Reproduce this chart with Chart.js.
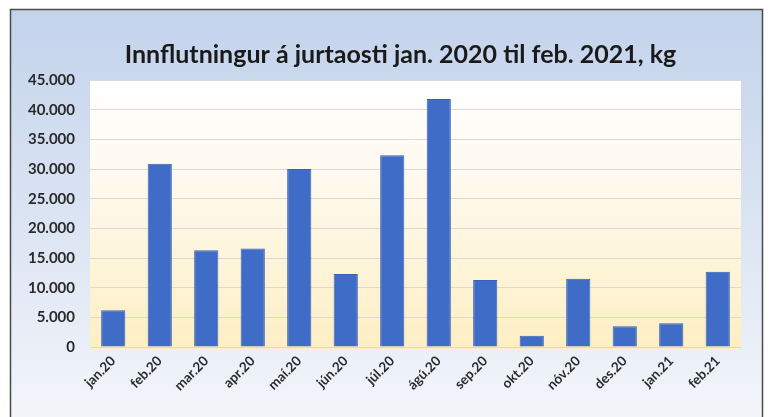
<!DOCTYPE html>
<html>
<head>
<meta charset="utf-8">
<script src="https://cdn.jsdelivr.net/npm/chart.js@4/dist/chart.umd.min.js"></script>
<style>
  html, body { margin: 0; padding: 0; background: #ffffff; }
  #wrap { width: 773px; height: 417px; position: relative; }
</style>
</head>
<body>
<div id="wrap"><canvas id="c" width="773" height="417"></canvas></div>
<script>
const chartTitle = "Innflutningur á jurtaosti jan. 2020 til feb. 2021, kg";
const categories = ["jan.20","feb.20","mar.20","apr.20","maí.20","jún.20","júl.20","ágú.20","sep.20","okt.20","nóv.20","des.20","jan.21","feb.21"];
const importKg = [6200, 30900, 16300, 16600, 30000, 12300, 32300, 41800, 11300, 1900, 11500, 3500, 4000, 12700];
const yTicks = [0, 5000, 10000, 15000, 20000, 25000, 30000, 35000, 40000, 45000];

function fmt(v) {
  return String(v).replace(/\B(?=(\d{3})+(?!\d))/g, ".");
}

const bgPlugin = {
  id: 'bg',
  beforeDraw(chart) {
    const ctx = chart.ctx;
    const W = chart.width, H = chart.height;
    ctx.save();
    ctx.fillStyle = '#ffffff';
    ctx.fillRect(0, 0, W, H);
    const g = ctx.createLinearGradient(0, 9, 0, H);
    g.addColorStop(0, '#c3d3ec');
    g.addColorStop(0.45, '#d8e2f2');
    g.addColorStop(1, '#f3f5fa');
    ctx.fillStyle = g;
    ctx.fillRect(10, 9, 752, H);
    ctx.strokeStyle = '#4a4a4a';
    ctx.lineWidth = 1.5;
    ctx.strokeRect(10.5, 9.5, 752, H + 10);
    const a = chart.chartArea;
    const pg = ctx.createLinearGradient(0, a.top, 0, a.bottom);
    pg.addColorStop(0, '#ffffff');
    pg.addColorStop(0.35, '#fffaf0');
    pg.addColorStop(1, '#fdefc4');
    ctx.fillStyle = pg;
    ctx.fillRect(a.left, a.top, a.right - a.left, a.bottom - a.top + 2);
    ctx.restore();
  }
};

new Chart(document.getElementById('c'), {
  type: 'bar',
  data: {
    labels: categories,
    datasets: [{
      data: importKg,
      backgroundColor: '#3f6cc6',
      borderColor: '#3860b4',
      borderWidth: 1,
      barPercentage: 0.52,
      categoryPercentage: 1.0
    }]
  },
  options: {
    responsive: false,
    animation: false,
    devicePixelRatio: 1,
    layout: { padding: { left: 60, right: 32, top: 0, bottom: 0 } },
    plugins: {
      legend: { display: false },
      tooltip: { enabled: false },
      title: {
        display: true,
        text: chartTitle,
        color: '#1a1a1a',
        font: { family: 'Lato', size: 25, weight: 'bold' },
        padding: { top: 40, bottom: 10 }
      }
    },
    scales: {
      x: {
        grid: { display: false, drawTicks: false },
        border: { display: false },
        ticks: {
          color: '#2a2a2a',
          font: { family: 'Lato', size: 13.5, weight: 'bold' },
          minRotation: 45, maxRotation: 45,
          padding: 6
        },
        afterFit(s) { s.height = 70; }
      },
      y: {
        min: 0, max: 45000,
        afterBuildTicks(s) { s.ticks = yTicks.map(v => ({ value: v })); },
        grid: { color: '#d9d9d9', lineWidth: 1, drawTicks: false },
        border: { display: false },
        ticks: {
          color: '#2a2a2a',
          font: { family: 'Lato', size: 15, weight: 'bold' },
          padding: 15,
          callback: (v) => fmt(v)
        },
        afterFit(s) {
          s.width = 30;
          s._computeLabelArea = function () { return undefined; };
        }
      }
    }
  },
  plugins: [bgPlugin]
});
</script>
</body>
</html>
